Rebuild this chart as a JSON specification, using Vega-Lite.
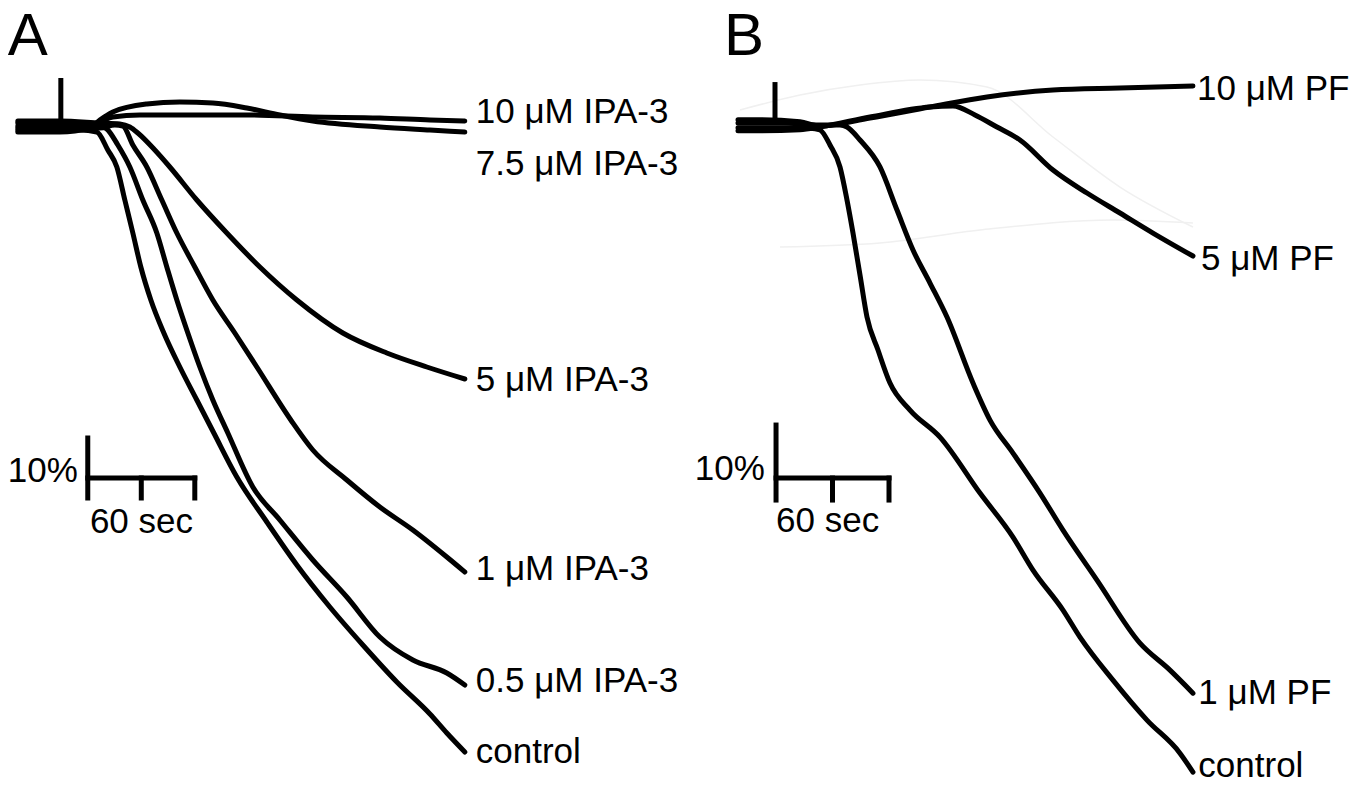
{
  "$schema": "https://vega.github.io/schema/vega-lite/v6.json",
  "background": "white",
  "padding": 0,
  "spacing": 0,
  "bounds": "flush",
  "config": {"view": {"stroke": null}},
  "datasets": {
    "traceA": [
      {"s":"control","t":0,"v":-1},{"s":"control","t":17.94,"v":-1},{"s":"control","t":34.76,"v":-1},{"s":"control","t":44.29,"v":-1.5},{"s":"control","t":50.45,"v":-6},{"s":"control","t":55.5,"v":-10.25},{"s":"control","t":59.98,"v":-18.5},{"s":"control","t":64.47,"v":-26.75},{"s":"control","t":68.95,"v":-35.25},{"s":"control","t":74.56,"v":-43.5},{"s":"control","t":81.84,"v":-51.75},{"s":"control","t":90.81,"v":-60.25},{"s":"control","t":100.34,"v":-68.5},{"s":"control","t":109.87,"v":-76.75},{"s":"control","t":122.76,"v":-87.75},{"s":"control","t":139.58,"v":-99},{"s":"control","t":156.4,"v":-109.75},{"s":"control","t":174.9,"v":-120.25},{"s":"control","t":193.4,"v":-129.75},{"s":"control","t":212.46,"v":-139},{"s":"control","t":231.02,"v":-147},{"s":"control","t":240.48,"v":-151.75},{"s":"control","t":250.57,"v":-156.5},
      {"s":"0.5","t":0,"v":0.75},{"s":"0.5","t":17.94,"v":0.75},{"s":"0.5","t":34.76,"v":0.75},{"s":"0.5","t":45.97,"v":0},{"s":"0.5","t":49.89,"v":-0.75},{"s":"0.5","t":56.06,"v":-4.75},{"s":"0.5","t":62.79,"v":-10.25},{"s":"0.5","t":70.07,"v":-18.5},{"s":"0.5","t":77.92,"v":-26.75},{"s":"0.5","t":83.52,"v":-35.25},{"s":"0.5","t":89.13,"v":-43.5},{"s":"0.5","t":95.3,"v":-51.75},{"s":"0.5","t":102.02,"v":-60.25},{"s":"0.5","t":109.31,"v":-68.5},{"s":"0.5","t":117.72,"v":-76.75},{"s":"0.5","t":131.73,"v":-90.25},{"s":"0.5","t":146.87,"v":-98.5},{"s":"0.5","t":165.37,"v":-108.5},{"s":"0.5","t":184.43,"v":-117.75},{"s":"0.5","t":202.93,"v":-127.75},{"s":"0.5","t":221.43,"v":-133.5},{"s":"0.5","t":240.48,"v":-136.75},{"s":"0.5","t":250.57,"v":-139.75},
      {"s":"1","t":0,"v":-0.5},{"s":"1","t":23.54,"v":-0.5},{"s":"1","t":45.97,"v":-0.5},{"s":"1","t":54.38,"v":0.25},{"s":"1","t":58.86,"v":0},{"s":"1","t":64.47,"v":-4.75},{"s":"1","t":72.31,"v":-10.25},{"s":"1","t":80.72,"v":-18.5},{"s":"1","t":89.13,"v":-26.75},{"s":"1","t":99.22,"v":-35.25},{"s":"1","t":109.31,"v":-43.5},{"s":"1","t":121.64,"v":-51.75},{"s":"1","t":133.98,"v":-60.25},{"s":"1","t":153.04,"v":-73.5},{"s":"1","t":165.37,"v":-81},{"s":"1","t":184.43,"v":-88.5},{"s":"1","t":202.93,"v":-95.25},{"s":"1","t":221.43,"v":-101},{"s":"1","t":240.48,"v":-107.75},{"s":"1","t":250.57,"v":-111.5},
      {"s":"5","t":0,"v":1.25},{"s":"5","t":23.54,"v":1.25},{"s":"5","t":45.97,"v":0.75},{"s":"5","t":57.18,"v":0.5},{"s":"5","t":62.79,"v":-0.25},{"s":"5","t":67.27,"v":-1.75},{"s":"5","t":76.8,"v":-6},{"s":"5","t":85.21,"v":-10.25},{"s":"5","t":100.34,"v":-18.5},{"s":"5","t":117.16,"v":-26.75},{"s":"5","t":135.66,"v":-35.25},{"s":"5","t":156.4,"v":-43.5},{"s":"5","t":182.19,"v":-51.75},{"s":"5","t":206.85,"v":-56.75},{"s":"5","t":229.28,"v":-60.25},{"s":"5","t":250.57,"v":-63.25},
      {"s":"10","t":0,"v":0},{"s":"10","t":23.54,"v":0},{"s":"10","t":40.36,"v":0.25},{"s":"10","t":45.97,"v":1},{"s":"10","t":53.25,"v":2.25},{"s":"10","t":68.39,"v":2.75},{"s":"10","t":90.81,"v":2.75},{"s":"10","t":128.37,"v":2.75},{"s":"10","t":165.37,"v":2.25},{"s":"10","t":202.93,"v":2},{"s":"10","t":231.02,"v":1.5},{"s":"10","t":250.57,"v":1.25},
      {"s":"7.5","t":0,"v":-1.5},{"s":"7.5","t":23.54,"v":-1.5},{"s":"7.5","t":40.36,"v":-0.5},{"s":"7.5","t":45.97,"v":1.5},{"s":"7.5","t":53.25,"v":3.5},{"s":"7.5","t":72.31,"v":5.5},{"s":"7.5","t":90.81,"v":6},{"s":"7.5","t":109.31,"v":5.75},{"s":"7.5","t":128.37,"v":4.5},{"s":"7.5","t":146.87,"v":2.75},{"s":"7.5","t":165.37,"v":1.25},{"s":"7.5","t":202.93,"v":-0.25},{"s":"7.5","t":231.02,"v":-1},{"s":"7.5","t":250.57,"v":-1.5}
    ],
    "ghostB": [
      {"s":"g1","t":1.06,"v":2.83},{"s":"g1","t":32.93,"v":5.66},{"s":"g1","t":64.79,"v":7.55},{"s":"g1","t":96.66,"v":8.49},{"s":"g1","t":132.24,"v":7.17},{"s":"g1","t":167.29,"v":-2.26},{"s":"g1","t":202.87,"v":-11.7},{"s":"g1","t":241.64,"v":-19.25},
      {"s":"g2","t":22.3,"v":-23.02},{"s":"g2","t":75.41,"v":-22.26},{"s":"g2","t":128.52,"v":-19.81},{"s":"g2","t":199.15,"v":-17.92},{"s":"g2","t":241.64,"v":-18.49}
    ],
    "traceB": [
      {"s":"10","t":0,"v":1},{"s":"10","t":11.68,"v":1},{"s":"10","t":32.93,"v":0.6},{"s":"10","t":43.55,"v":-0.2},{"s":"10","t":70.1,"v":1.32},{"s":"10","t":101.97,"v":3.4},{"s":"10","t":132.24,"v":5.28},{"s":"10","t":167.29,"v":6.6},{"s":"10","t":202.87,"v":6.98},{"s":"10","t":241.64,"v":7.36},
      {"s":"5","t":0,"v":-1.1},{"s":"5","t":11.68,"v":-1.1},{"s":"5","t":32.93,"v":-0.9},{"s":"5","t":43.55,"v":-0.38},{"s":"5","t":70.1,"v":1.51},{"s":"5","t":101.97,"v":3.4},{"s":"5","t":114.18,"v":3.58},{"s":"5","t":125.86,"v":1.89},{"s":"5","t":137.55,"v":-0.38},{"s":"5","t":149.76,"v":-2.83},{"s":"5","t":167.29,"v":-8.49},{"s":"5","t":185.34,"v":-12.83},{"s":"5","t":202.87,"v":-16.6},{"s":"5","t":220.39,"v":-20.38},{"s":"5","t":241.64,"v":-24.72},
      {"s":"1","t":0,"v":0.4},{"s":"1","t":22.3,"v":0.4},{"s":"1","t":43.55,"v":0},{"s":"1","t":54.17,"v":0},{"s":"1","t":57.89,"v":-0.38},{"s":"1","t":64.79,"v":-2.83},{"s":"1","t":75.41,"v":-7.92},{"s":"1","t":84.44,"v":-16.04},{"s":"1","t":92.94,"v":-23.58},{"s":"1","t":101.97,"v":-29.81},{"s":"1","t":110.99,"v":-36.23},{"s":"1","t":124.8,"v":-48.68},{"s":"1","t":133.83,"v":-55.66},{"s":"1","t":146.04,"v":-61.89},{"s":"1","t":160.38,"v":-69.43},{"s":"1","t":172.6,"v":-76.42},{"s":"1","t":190.65,"v":-85.85},{"s":"1","t":213.49,"v":-97.74},{"s":"1","t":229.42,"v":-102.83},{"s":"1","t":241.64,"v":-107.17},
      {"s":"control","t":0,"v":-0.5},{"s":"control","t":22.3,"v":-0.5},{"s":"control","t":38.24,"v":-0.6},{"s":"control","t":43.55,"v":-0.94},{"s":"control","t":48.86,"v":-3.77},{"s":"control","t":54.17,"v":-7.92},{"s":"control","t":57.89,"v":-14.15},{"s":"control","t":61.07,"v":-20.38},{"s":"control","t":64.79,"v":-28.3},{"s":"control","t":68.51,"v":-36.23},{"s":"control","t":74.35,"v":-42.45},{"s":"control","t":80.72,"v":-48.68},{"s":"control","t":91.34,"v":-53.77},{"s":"control","t":107.28,"v":-58.87},{"s":"control","t":128.52,"v":-69.43},{"s":"control","t":146.04,"v":-77.74},{"s":"control","t":156.67,"v":-83.96},{"s":"control","t":172.6,"v":-91.51},{"s":"control","t":181.63,"v":-96.6},{"s":"control","t":199.15,"v":-104.72},{"s":"control","t":217.21,"v":-112.26},{"s":"control","t":234.73,"v":-118.49},{"s":"control","t":241.64,"v":-122.08}
    ],
    "spikeA": [{"t":24.1,"v":0,"v2":12}],
    "spikeB": [{"t":19.65,"v":0,"v2":8.1}],
    "barA": [
      {"t":39.2,"t2":39.2,"v":-93,"v2":-78},
      {"t":39.2,"t2":99.2,"v":-88,"v2":-88},
      {"t":69.2,"t2":69.2,"v":-93,"v2":-88},
      {"t":99.2,"t2":99.2,"v":-93,"v2":-88}
    ],
    "barB": [
      {"t":20.2,"t2":20.2,"v":-70.75,"v2":-56.6},
      {"t":20.2,"t2":80.2,"v":-66.6,"v2":-66.6},
      {"t":50.2,"t2":50.2,"v":-70.75,"v2":-66.6},
      {"t":80.2,"t2":80.2,"v":-70.75,"v2":-66.6}
    ],
    "labelA": [
      {"t":256.7,"v":0.75,"text":"10 μM IPA-3"},
      {"t":256.7,"v":-12.25,"text":"7.5 μM IPA-3"},
      {"t":256.7,"v":-66.25,"text":"5 μM IPA-3"},
      {"t":256.7,"v":-113.5,"text":"1 μM IPA-3"},
      {"t":256.7,"v":-141.5,"text":"0.5 μM IPA-3"},
      {"t":256.7,"v":-159.25,"text":"control"},
      {"t":40.4,"v":-101.75,"text":"60 sec"}
    ],
    "labelB": [
      {"t":243.8,"v":4.7,"text":"10 μM PF"},
      {"t":245.9,"v":-27.4,"text":"5 μM PF"},
      {"t":244.5,"v":-109.2,"text":"1 μM PF"},
      {"t":244.5,"v":-123.0,"text":"control"},
      {"t":20.2,"v":-76.8,"text":"60 sec"}
    ],
    "pctA": [{"t":33.6,"v":-89,"text":"10%"}],
    "pctB": [{"t":14.3,"v":-67.0,"text":"10%"}],
    "panelA": [{"t":-5.6,"v":17.75,"text":"A"}],
    "panelB": [{"t":-7.4,"v":13.2,"text":"B"}]
  },
  "hconcat": [
    {
      "width": 685,
      "height": 785,
      "encoding": {
        "x": {"field":"t","type":"quantitative","scale":{"domain":[-10,374],"nice":false,"zero":false},"axis":null},
        "y": {"field":"v","type":"quantitative","scale":{"domain":[-164.75,31.5],"nice":false,"zero":false},"axis":null}
      },
      "layer": [
        {"data":{"name":"traceA"},"mark":{"type":"line","color":"black","strokeWidth":5,"interpolate":"monotone","strokeCap":"round","strokeJoin":"round"},"encoding":{"detail":{"field":"s"}}},
        {"data":{"name":"spikeA"},"mark":{"type":"rule","color":"black","strokeWidth":5},"encoding":{"y2":{"field":"v2"}}},
        {"data":{"name":"barA"},"mark":{"type":"rule","color":"black","strokeWidth":5,"strokeCap":"square"},"encoding":{"x2":{"field":"t2"},"y2":{"field":"v2"}}},
        {"data":{"name":"labelA"},"mark":{"type":"text","align":"left","baseline":"alphabetic","font":"Liberation Sans","fontSize":35,"color":"black"},"encoding":{"text":{"field":"text"}}},
        {"data":{"name":"pctA"},"mark":{"type":"text","align":"right","baseline":"alphabetic","font":"Liberation Sans","fontSize":35,"color":"black"},"encoding":{"text":{"field":"text"}}},
        {"data":{"name":"panelA"},"mark":{"type":"text","align":"left","baseline":"alphabetic","font":"Liberation Sans","fontSize":60,"color":"black"},"encoding":{"text":{"field":"text"}}}
      ]
    },
    {
      "width": 686,
      "height": 785,
      "encoding": {
        "x": {"field":"t","type":"quantitative","scale":{"domain":[-28.15,336.2],"nice":false,"zero":false},"axis":null},
        "y": {"field":"v","type":"quantitative","scale":{"domain":[-124.5,23.58],"nice":false,"zero":false},"axis":null}
      },
      "layer": [
        {"data":{"name":"ghostB"},"mark":{"type":"line","color":"#f0f0f0","strokeWidth":1.5,"interpolate":"monotone"},"encoding":{"detail":{"field":"s"}}},
        {"data":{"name":"traceB"},"mark":{"type":"line","color":"black","strokeWidth":5,"interpolate":"monotone","strokeCap":"round","strokeJoin":"round"},"encoding":{"detail":{"field":"s"}}},
        {"data":{"name":"spikeB"},"mark":{"type":"rule","color":"black","strokeWidth":5},"encoding":{"y2":{"field":"v2"}}},
        {"data":{"name":"barB"},"mark":{"type":"rule","color":"black","strokeWidth":5,"strokeCap":"square"},"encoding":{"x2":{"field":"t2"},"y2":{"field":"v2"}}},
        {"data":{"name":"labelB"},"mark":{"type":"text","align":"left","baseline":"alphabetic","font":"Liberation Sans","fontSize":35,"color":"black"},"encoding":{"text":{"field":"text"}}},
        {"data":{"name":"pctB"},"mark":{"type":"text","align":"right","baseline":"alphabetic","font":"Liberation Sans","fontSize":35,"color":"black"},"encoding":{"text":{"field":"text"}}},
        {"data":{"name":"panelB"},"mark":{"type":"text","align":"left","baseline":"alphabetic","font":"Liberation Sans","fontSize":60,"color":"black"},"encoding":{"text":{"field":"text"}}}
      ]
    }
  ]
}
